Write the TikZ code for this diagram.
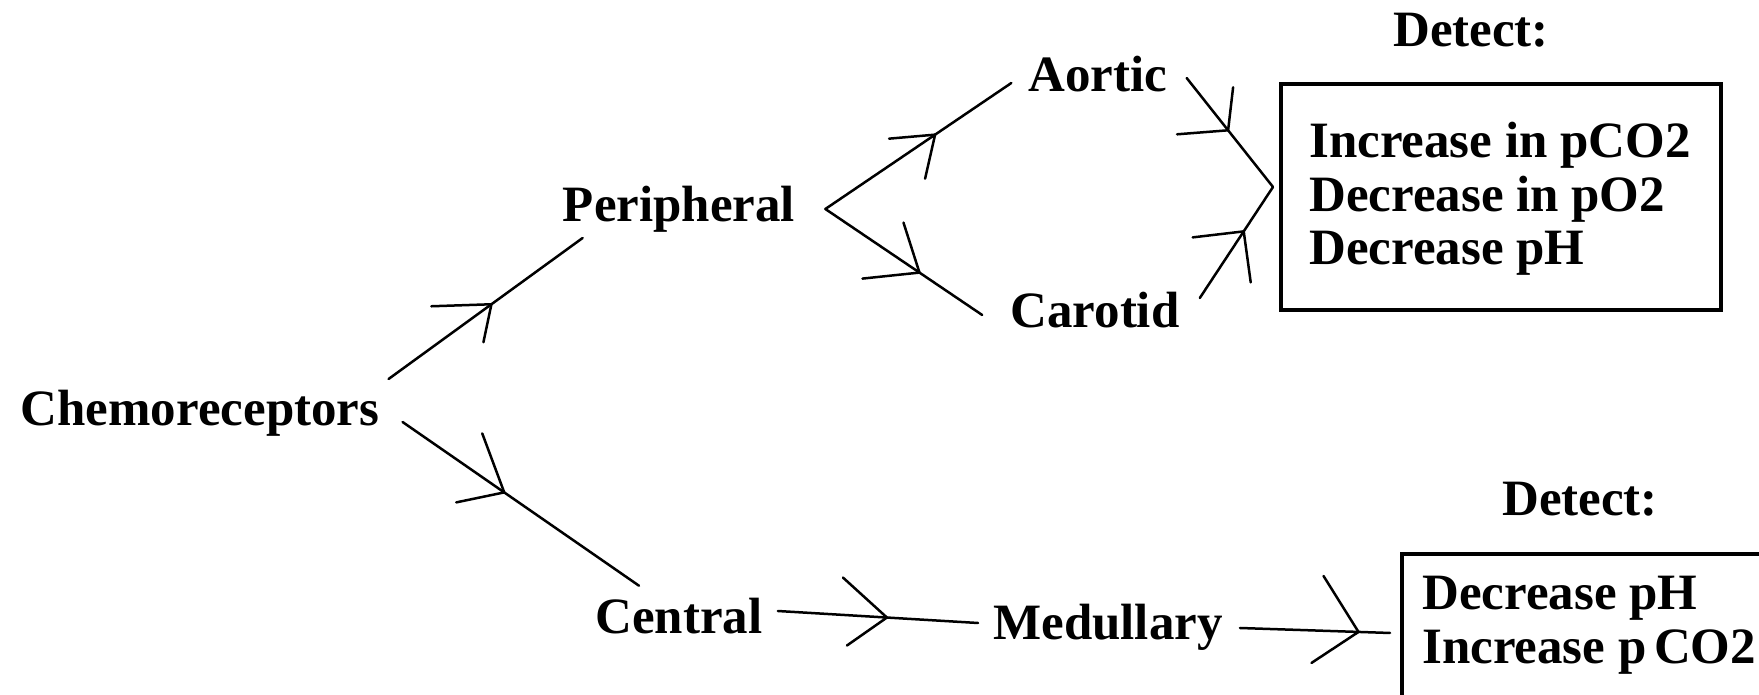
\documentclass[tikz,border=0pt]{standalone}
\usepackage{fontspec}
\setmainfont{Liberation Serif}
\begin{document}
\begin{tikzpicture}[x=0.02cm, y=-0.02cm,
  lbl/.style={font=\bfseries\fontsize{29}{30.5}\selectfont, inner sep=0pt, text height=19.7pt, text depth=6.4pt},
  lines/.style={font=\bfseries\fontsize{29}{30.5}\selectfont, inner sep=0pt, align=left, anchor=north west},
  frame/.style={draw, line width=0.08cm, inner sep=0pt, anchor=north west},
  conn/.style={line width=0.05cm, line cap=round, line join=round},
]
\useasboundingbox (0,0) rectangle (1759,695);
\clip (0,0) rectangle (1759,695);

% labels
\node[lbl] (chemo)   at (200,414)  {Chemoreceptors};
\node[lbl] (peri)    at (679,210)  {Peripheral};
\node[lbl] (aortic)  at (1098,80)  {Aortic};
\node[lbl] (carotid) at (1095,316) {Carotid};
\node[lbl] (central) at (679,622)  {Central};
\node[lbl] (medul)   at (1108,628) {Medullary};
\node[lbl] (det1)    at (1471,35)  {Detect:};
\node[lbl] (det2)    at (1580,504) {Detect:};

% boxes with the detected changes
\node[frame, minimum width=8.8cm, minimum height=4.52cm] (box1) at (1279,82) {};
\node[lines] (list1) at (1309,122) {Increase in pCO2\\Decrease in pO2\\Decrease pH};
\node[frame, minimum width=8.4cm, minimum height=4cm] (box2) at (1400,552) {};
\node[lines] (list2) at (1422,576) {Decrease pH\\Increase p\kern0.15em CO2};

% connectors; each one marks the point where its open arrowhead sits
\draw[conn] ([shift={(9,-35)}]chemo.east) -- ([shift={(20,28)}]peri.west)
  coordinate[pos=0.53] (t1);
\draw[conn] ([shift={(23,8)}]chemo.east) -- ([shift={(-40,-13)}]central.north)
  coordinate[pos=0.43] (t2);
\draw[conn] ([shift={(30,-1)}]peri.east) coordinate (pfork)
  -- ([shift={(-17,3)}]aortic.west) coordinate[pos=0.59] (t3);
\draw[conn] (pfork) -- ([shift={(-28,-1)}]carotid.west)
  coordinate[pos=0.60] (t4);
\draw[conn] ([shift={(19,-2)}]aortic.east) -- ([shift={(-6,-10)}]box1.west)
  coordinate[pos=0.48] (t5);
\draw[conn] ([shift={(20,-18)}]carotid.east) -- ([shift={(-6,-10)}]box1.west)
  coordinate[pos=0.60] (t6);
\draw[conn] ([shift={(15,-11)}]central.east) -- ([shift={(-15,-5)}]medul.west)
  coordinate[pos=0.545] (t7);
\draw[conn] ([shift={(17,0)}]medul.east) -- ([shift={(-10,-21)}]box2.west)
  coordinate[pos=0.79] (t8);

% hand-drawn open arrowheads
\draw[conn] ([shift={(-60,2)}]t1)  -- (t1) -- ([shift={(-8,38)}]t1);
\draw[conn] ([shift={(-48,10)}]t2) -- (t2) -- ([shift={(-22,-59)}]t2);
\draw[conn] ([shift={(-46,4)}]t3)  -- (t3) -- ([shift={(-10,44)}]t3);
\draw[conn] ([shift={(-57,6)}]t4)  -- (t4) -- ([shift={(-16,-50)}]t4);
\draw[conn] ([shift={(-51,4)}]t5)  -- (t5) -- ([shift={(5,-43)}]t5);
\draw[conn] ([shift={(-51,6)}]t6)  -- (t6) -- ([shift={(7,51)}]t6);
\draw[conn] ([shift={(-44,-40)}]t7) -- (t7) -- ([shift={(-40,28)}]t7);
\draw[conn] ([shift={(-35,-56)}]t8) -- (t8) -- ([shift={(-47,31)}]t8);
\end{tikzpicture}
\end{document}
